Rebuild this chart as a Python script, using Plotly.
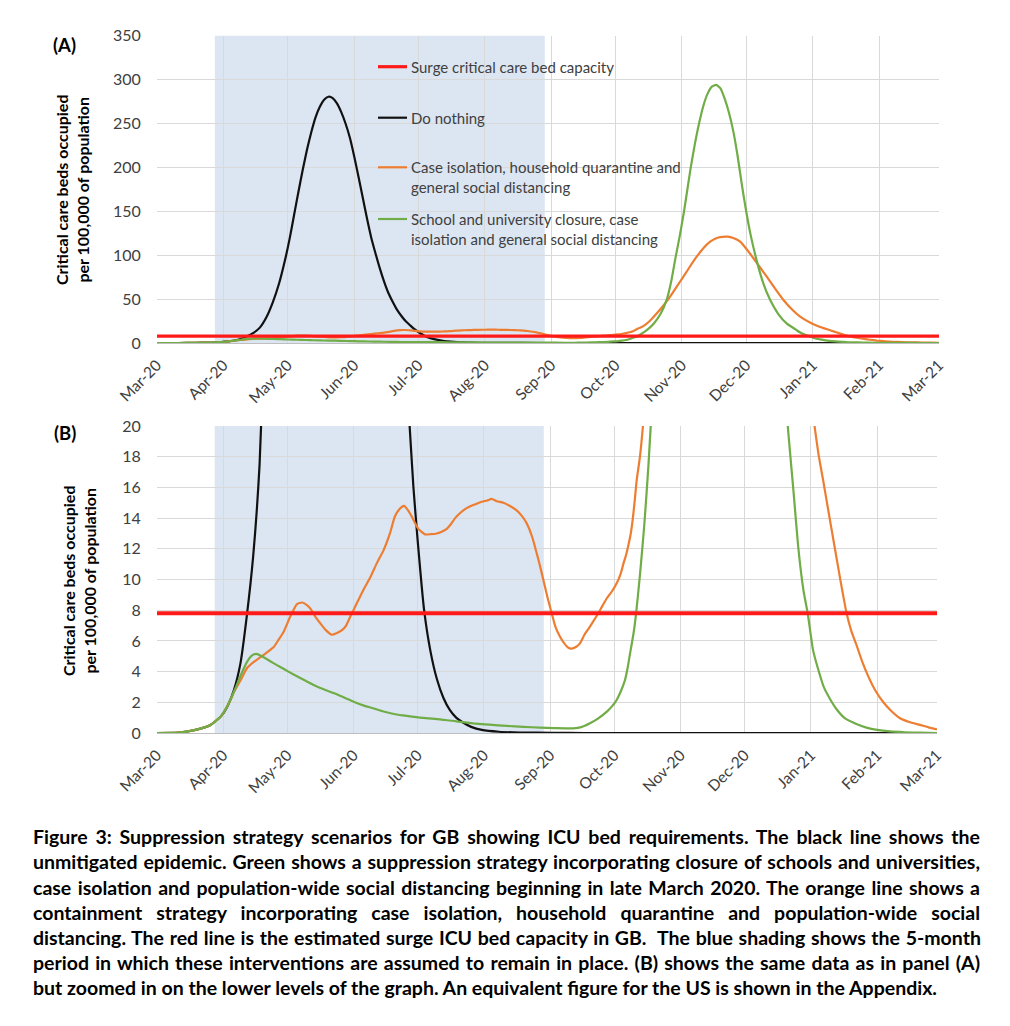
import json
import pandas as pd
import plotly.graph_objects as go

# ---------------- data (days since 1 Mar 2020, value per 100,000) ----------------
START = "2020-03-01"
END = "2021-03-01"

SERIES_NAMES = [
    "Surge critical care bed capacity",
    "Do nothing",
    "Case isolation, household quarantine and<br>general social distancing",
    "School and university closure, case<br>isolation and general social distancing",
]

surge_day = [0, 365]
surge_val = [7.8, 7.8]

do_nothing = [
    (0, 0), (10, 0.02), (18, 0.2), (25, 0.52), (30, 1.1), (33, 1.75), (36, 2.8), (39, 4.5),
    (42, 7.6), (45, 11.5), (48, 17.5), (51, 29), (54, 46), (57, 68), (60, 97), (62, 120),
    (64, 146), (66, 172), (68, 197), (70, 220), (72, 240), (74, 257), (76, 269), (78, 277),
    (80, 280.5), (82, 279), (84, 273), (86, 263), (88, 250), (90, 234), (92, 213), (94, 190),
    (96, 166), (98, 142), (100, 120), (102, 102), (104, 85), (106, 70), (108, 57), (110, 47),
    (112, 38), (114, 31), (116, 25), (118, 20.5), (120, 16), (122, 12.5), (125, 8.0),
    (128, 5.3), (131, 3.5), (134, 2.3), (137, 1.5), (140, 1.0), (143, 0.7), (147, 0.4),
    (152, 0.2), (160, 0.08), (170, 0.03), (185, 0.01), (200, 0), (365, 0),
]

case_isolation = [
    (0, 0), (10, 0.02), (18, 0.2), (25, 0.52), (30, 1.1), (33.5, 1.9), (36.5, 2.8), (39, 3.4),
    (42, 4.2), (45, 4.6), (48, 4.9), (51, 5.2), (54.6, 5.6), (57, 6.1), (59.3, 6.6), (62.4, 7.6),
    (65.5, 8.4), (67.9, 8.5), (70, 8.35), (71.8, 8.1), (74, 7.6), (76.4, 7.15), (79, 6.7),
    (81.9, 6.4), (84, 6.5), (86.6, 6.7), (88.5, 7.0), (90.5, 7.6), (93, 8.3), (96.5, 9.3),
    (100, 10.2), (103, 11.1), (106, 11.9), (109, 13.0), (111.3, 14.1), (113.5, 14.6),
    (115.6, 14.8), (117.5, 14.5), (119.2, 14.1), (122.3, 13.3), (125.4, 12.94), (128, 12.95),
    (130.9, 13.0), (133, 13.1), (135.6, 13.3), (137.5, 13.6), (139.5, 14.0), (142, 14.35),
    (144.9, 14.65), (148, 14.85), (152, 15.07), (154.5, 15.15), (156.6, 15.25), (159, 15.1),
    (162.1, 15.0), (165, 14.8), (168.3, 14.5), (171, 14.1), (173, 13.66), (175.5, 12.8),
    (177.7, 11.7), (179.2, 10.9), (180.8, 9.97), (182.8, 8.8), (184.7, 7.8), (186.5, 6.9),
    (188.6, 6.27), (190.5, 5.85), (192.5, 5.55), (194, 5.5), (196, 5.6), (197.9, 5.84),
    (200, 6.4), (202.6, 6.93), (204.5, 7.35), (206.5, 7.8), (208.5, 8.3), (210.5, 8.78),
    (213, 9.25), (215.1, 9.75), (216.8, 10.3), (218.3, 11.05), (219.5, 11.6), (220.6, 12.25),
    (221.7, 13.0), (222.6, 13.9), (223.6, 15.2), (224.5, 16.5), (226, 18.0), (228, 21),
    (230, 25), (233.3, 33.8), (236.5, 43), (239.5, 52.8), (242.5, 64), (245.7, 75.5),
    (249, 88), (251.9, 98.3), (255, 108), (258.2, 115.4), (260.5, 118.8), (262.8, 120.6),
    (266.4, 121.1), (269, 119.5), (272.2, 115.4), (275.3, 106.5), (278.4, 96.5), (281.5, 86),
    (284.6, 75.5), (288.5, 62), (292.4, 49), (296.3, 38.5), (300.2, 30), (305, 23),
    (307.5, 20.2), (309.5, 18.2), (311.8, 16.4), (314.5, 14.2), (317, 12.2), (320, 9.8),
    (322.7, 7.8), (325, 6.6), (327.4, 5.7), (330, 4.65), (332.9, 3.67), (336, 2.8),
    (339.9, 2.0), (343.5, 1.45), (347.7, 0.96), (352, 0.72), (357, 0.53), (361, 0.37),
    (365, 0.24),
]

school_closure = [
    (0, 0), (10, 0.02), (18, 0.2), (25, 0.52), (30, 1.1), (33.5, 1.9), (36.5, 2.85), (39, 3.7),
    (42, 4.6), (44.5, 5.05), (46.5, 5.15), (49, 5.0), (51.5, 4.8), (54.5, 4.55), (57.7, 4.3),
    (61.5, 4.0), (65.5, 3.7), (69.5, 3.4), (73.3, 3.13), (78, 2.85), (82.7, 2.6), (88.5, 2.25),
    (92, 2.04), (96.5, 1.8), (101.2, 1.61), (106, 1.4), (111.5, 1.22), (116.9, 1.11),
    (124.5, 0.98), (132.4, 0.89), (140, 0.76), (148, 0.63), (155.5, 0.54), (163.7, 0.46),
    (171.5, 0.4), (179.2, 0.35), (186, 0.32), (194.8, 0.3), (198.5, 0.38), (202.6, 0.63),
    (206.5, 0.95), (210.5, 1.39), (213, 1.75), (215.1, 2.15), (217, 2.7), (219, 3.45),
    (220.3, 4.3), (221.4, 5.2), (223, 6.5), (224.2, 7.8), (226, 10.3), (228, 13.5),
    (230, 17.5), (232, 22.5), (235, 33), (238, 50), (240, 70), (242, 97), (244, 122),
    (246, 150), (249, 198), (251, 226), (253, 250), (255, 270), (257, 284), (259, 292),
    (261, 294), (263, 290), (265, 278), (267, 262), (269, 241), (271, 213), (273, 180),
    (275, 150), (277, 124), (280, 93), (283, 68), (286, 50), (290, 33), (294, 22),
    (298, 15.5), (300, 12.2), (302.5, 9.3), (304.5, 7.8), (307, 5.4), (309.5, 4.1),
    (312, 3.0), (315, 2.2), (318, 1.55), (322, 0.95), (327, 0.6), (332, 0.35), (337, 0.2),
    (343, 0.1), (350, 0.05), (357, 0.02), (365, 0),
]

SHADE_PERIOD = ["2020-03-28", "2020-08-29"]

CAPTION_LINES = [
    "Figure 3: Suppression strategy scenarios for GB showing ICU bed requirements. The black line shows the",
    "unmitigated epidemic. Green shows a suppression strategy incorporating closure of schools and universities,",
    "case isolation and population-wide social distancing beginning in late March 2020. The orange line shows a",
    "containment strategy incorporating case isolation, household quarantine and population-wide social",
    "distancing. The red line is the estimated surge ICU bed capacity in GB.  The blue shading shows the 5-month",
    "period in which these interventions are assumed to remain in place. (B) shows the same data as in panel (A)",
    "but zoomed in on the lower levels of the graph. An equivalent figure for the US is shown in the Appendix.",
]

Y_TITLE = "Critical care beds occupied<br>per 100,000 of population"

# ---------------- helpers ----------------
W, H = 1010, 1026
t0 = pd.Timestamp(START)


def to_dates(days):
    return [t0 + pd.to_timedelta(d, unit="D") for d in days]


def xp(px):
    return px / W


def yp(py):
    return 1 - py / H


COLORS = ["#ff1a1a", "#111111", "#ed7d31", "#70ad47"]
WIDTHS = [3.2, 2.2, 2.2, 2.2]
FONT = "Lato"
TXT = "#404040"

series = [
    (surge_day, surge_val),
    tuple(zip(*do_nothing)),
    tuple(zip(*case_isolation)),
    tuple(zip(*school_closure)),
]

fig = go.Figure()
for panel, (xa, ya) in enumerate([("x", "y"), ("x2", "y2")]):
    for idx in [1, 2, 3, 0]:
        d, v = series[idx]
        fig.add_trace(go.Scatter(
            x=to_dates(d), y=list(v), mode="lines", name=SERIES_NAMES[idx],
            line=dict(color=COLORS[idx], width=WIDTHS[idx] + (0.8 if (panel == 1 and idx == 0) else 0),
                      shape="spline", smoothing=0.5),
            xaxis=xa, yaxis=ya, showlegend=False, hoverinfo="skip",
        ))

xcommon = dict(
    type="date", range=[START, END], dtick="M1", tick0=START, tickformat="%b-%y",
    tickangle=-45, showgrid=True, gridcolor="#d9d9d9", gridwidth=1,
    showline=True, linecolor="#bfbfbf", linewidth=1.2, automargin=False,
    ticks="outside", ticklen=6, tickcolor="rgba(0,0,0,0)",
    tickfont=dict(family=FONT, size=15.5, color=TXT), zeroline=False,
)
ycommon = dict(
    showgrid=True, gridcolor="#d9d9d9", gridwidth=1, zeroline=False, automargin=False,
    ticks="outside", ticklen=12, tickcolor="rgba(0,0,0,0)",
    tickfont=dict(family=FONT, size=16, color=TXT), showline=False,
)

fig.update_layout(
    width=W, height=H, margin=dict(l=0, r=0, t=0, b=0, autoexpand=False),
    paper_bgcolor="white", plot_bgcolor="white",
    font=dict(family=FONT, color=TXT), showlegend=False,
    xaxis=dict(domain=[xp(157), xp(939)], anchor="y", **xcommon),
    yaxis=dict(domain=[yp(343), yp(35.7)], anchor="x", range=[0, 350], dtick=50, **ycommon),
    xaxis2=dict(domain=[xp(157), xp(937)], anchor="y2", **xcommon),
    yaxis2=dict(domain=[yp(733), yp(426)], anchor="x2", range=[0, 20], dtick=2, **ycommon),
)

# shaded intervention period
for xa, ya in [("x", "y"), ("x2", "y2")]:
    fig.add_shape(type="rect", xref=xa, yref=f"{ya} domain", x0=SHADE_PERIOD[0], x1=SHADE_PERIOD[1],
                  y0=0, y1=1, fillcolor="#dce6f2", line=dict(width=0), layer="below")

# legend (drawn inside panel A)
leg_first_line = [66.7, 117.7, 167.3, 219.0]
leg_center = [66.7, 117.7, 177.0, 228.7]
for i, name in enumerate(SERIES_NAMES):
    fig.add_shape(type="line", xref="paper", yref="paper", x0=xp(378), x1=xp(407),
                  y0=yp(leg_first_line[i]), y1=yp(leg_first_line[i]),
                  line=dict(color=COLORS[i], width=WIDTHS[i]))
    fig.add_annotation(xref="paper", yref="paper", x=xp(409), y=yp(leg_center[i]),
                       xanchor="left", yanchor="middle", align="left", showarrow=False,
                       text=name, font=dict(family=FONT, size=15, color=TXT))

# panel labels and axis titles
for lab, (lx, ly) in {"(A)": (64, 45), "(B)": (65, 433)}.items():
    fig.add_annotation(xref="paper", yref="paper", x=xp(lx), y=yp(ly), showarrow=False,
                       xanchor="center", yanchor="middle",
                       text=f"<b>{lab}</b>", font=dict(family=FONT, size=18.5, color="#000"))
for tx, ty in [(72, 190), (79, 581)]:
    fig.add_annotation(xref="paper", yref="paper", x=xp(tx), y=yp(ty), showarrow=False,
                       xanchor="center", yanchor="middle",
                       textangle=-90, text=f"<b>{Y_TITLE}</b>",
                       font=dict(family=FONT, size=16, color="#000"))

# caption
for i, line in enumerate(CAPTION_LINES):
    fig.add_annotation(xref="paper", yref="paper", x=xp(33), y=yp(836.7 + 25.15 * i),
                       xanchor="left", yanchor="middle", showarrow=False,
                       text=f"<b>{line}</b>", font=dict(family=FONT, size=19.5, color="#000"))

# page: remove body margin, justify caption lines (all but last) and align all to the left margin
CAPTION_PREFIXES = [ln[:25] for ln in CAPTION_LINES]
POST = """
document.body.style.margin = '0';
document.body.style.overflow = 'hidden';
(function(){
  var prefixes = %s;
  var nJustify = prefixes.length - 1;
  var left = %d, right = %d;
  function layoutCaption(){
    var texts = document.querySelectorAll('g.annotation text.annotation-text');
    texts.forEach(function(t){
      var s = t.textContent || '';
      var k = -1;
      prefixes.forEach(function(p, i){ if (s.indexOf(p) === 0) k = i; });
      if (k < 0) return;
      t.style.wordSpacing = '0px';
      t.removeAttribute('transform');
      var r0 = t.getBoundingClientRect();
      var n = (s.match(/ +/g) || []).length;
      if (k < nJustify && n > 0) {
        var extra = ((right - left) - r0.width) / n;
        t.style.wordSpacing = extra + 'px';
      }
      var r1 = t.getBoundingClientRect();
      t.setAttribute('transform', 'translate(' + (left - r1.left) + ',0)');
    });
  }
  layoutCaption();
  setTimeout(layoutCaption, 200);
  setTimeout(layoutCaption, 800);
})();
""" % (json.dumps(CAPTION_PREFIXES), 33, 980)

fig.write_html("out.html", post_script=POST, config={"displayModeBar": False})
